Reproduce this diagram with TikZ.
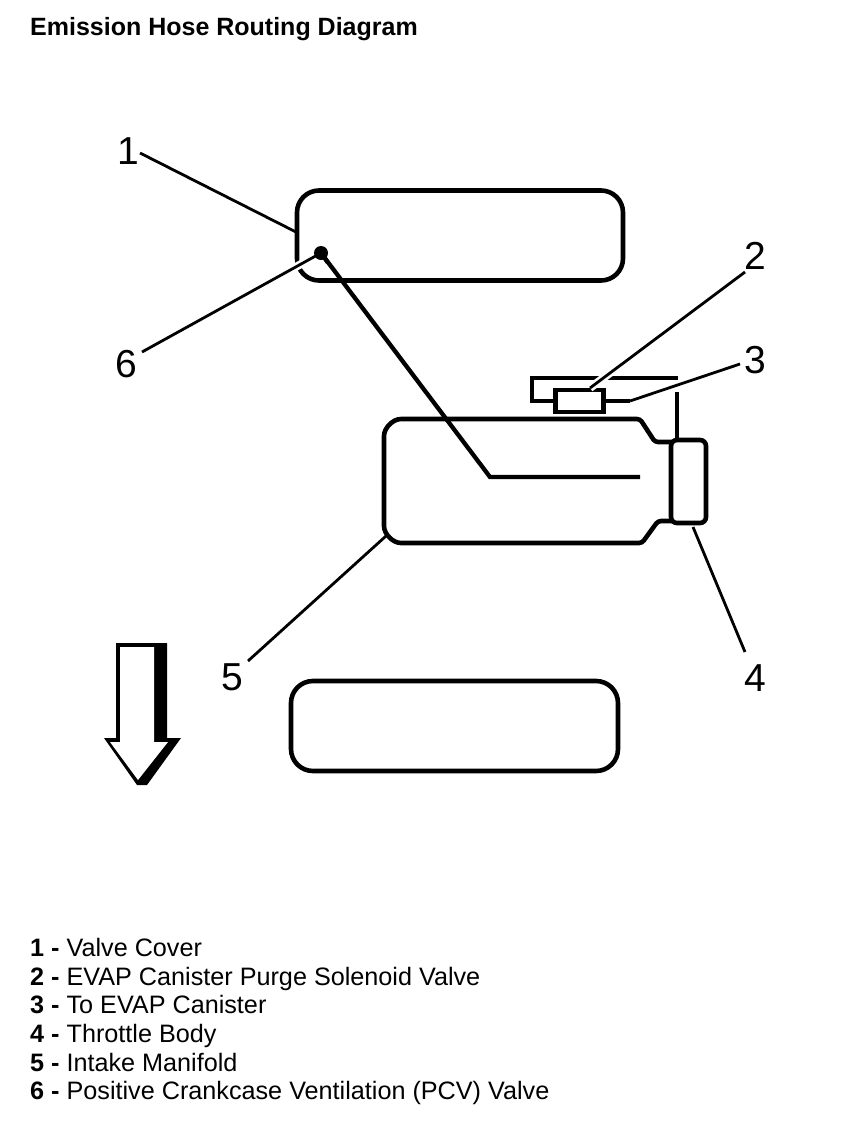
\documentclass[tikz,border=0pt]{standalone}
\usepackage{fontspec}
\setmainfont{Liberation Sans}
\begin{document}
\begin{tikzpicture}[x=1pt,y=-1pt,
  part/.style={draw=black,line width=4.6pt,inner sep=0pt,outer sep=0pt},
  hose/.style={draw=black,line width=4.3pt,line join=miter},
  leader/.style={draw=black,line width=2.8pt},
  halo/.style={preaction={draw=white,line width=8pt}},
  callout/.style={inner sep=0pt,font=\fontsize{39}{39}\selectfont},
  legend/.style={anchor=base west,inner sep=0pt,font=\fontsize{25.2}{26}\selectfont},
  title/.style={anchor=base west,inner sep=0pt,font=\fontsize{25}{26}\selectfont\bfseries}]
\useasboundingbox[fill=white] (0,0) rectangle (864,1122);

\node[title] (heading) at (30,35) {Emission Hose Routing Diagram};

% Shapes
\node[part,rounded corners=22pt,minimum width=326pt,minimum height=90pt] (cover) at (460,235.5) {};
\node[part,rounded corners=22pt,minimum width=327pt,minimum height=90pt] (lower) at (454.5,726) {};
\draw[part,rounded corners=3pt] (673,442) -- (655,442) -- (640,419) -- (404,419)
  arc[start angle=270,end angle=180,radius=20] -- (384,523)
  arc[start angle=180,end angle=90,radius=20] -- (642,543) -- (658,521) -- (673,521);
\node[part,fill=white,rounded corners=6pt,minimum width=35pt,minimum height=83pt] (throttle) at (688.5,481.5) {};

% Hoses
\node[part,fill=white,minimum width=48pt,minimum height=22pt] (valve) at (579.5,401) {};
\coordinate (hosetop) at (678,378);
\draw[hose] (valve.west) -- (532,401) -- (532,378) -- (hosetop);
\coordinate (canister) at (630,401);
\draw[hose] (valve.east) -- (canister);
\coordinate (tbtop) at (677,392);
\draw[hose] (tbtop) -- (tbtop |- throttle.north);

\coordinate (pcv) at (321,253);
\coordinate (hosebend) at (490,477);
\coordinate (hoseend) at (640,477);
\draw[hose] (pcv) -- (hosebend) -- (hoseend);

% Callouts
\node[callout] (n1) at (128,151) {1};
\node[callout] (n2) at (755,256) {2};
\node[callout] (n3) at (755,360) {3};
\node[callout] (n4) at (755,678) {4};
\node[callout] (n5) at (232,677) {5};
\node[callout] (n6) at (126,364) {6};

\coordinate (t1) at (296,232);
\coordinate (s1) at (140,153);
\coordinate (t2) at (590,388);
\coordinate (s2) at (745,272);
\coordinate (s3) at (740,364);
\coordinate (t4) at (693,527);
\coordinate (s4) at (745,652);
\coordinate (t5) at (386,536);
\coordinate (s5) at (248,661);
\coordinate (s6) at (142,352);

\draw[leader] (s1) -- (t1);
\draw[leader] (s3) -- (canister);
\draw[leader] (t4) -- (s4);
\draw[leader] (t5) -- (s5);
\path[leader,halo] (s2) -- (t2);
\path[leader,halo] (pcv) -- (s6);
\fill[black] (pcv) circle (7pt);
\draw[hose] (pcv) -- ++(7,9.7);

% Direction arrow
\fill[black] (116,643) -- (167,643) -- (167,738) -- (181,738) -- (147,785) -- (137,785) -- (104,738) -- (116,738) -- cycle;
\fill[white] (120,647) -- (154,647) -- (154,742) -- (168,742) -- (138,780) -- (110,742) -- (120,742) -- cycle;

% Legend
\node[legend] (l1) at (30,956) {\textbf{1 -} Valve Cover};
\node[legend] (l2) at (30,985) {\textbf{2 -} EVAP Canister Purge Solenoid Valve};
\node[legend] (l3) at (30,1013) {\textbf{3 -} To EVAP Canister};
\node[legend] (l4) at (30,1042) {\textbf{4 -} Throttle Body};
\node[legend] (l5) at (30,1071) {\textbf{5 -} Intake Manifold};
\node[legend] (l6) at (30,1099) {\textbf{6 -} Positive Crankcase Ventilation (PCV) Valve};
\end{tikzpicture}
\end{document}
